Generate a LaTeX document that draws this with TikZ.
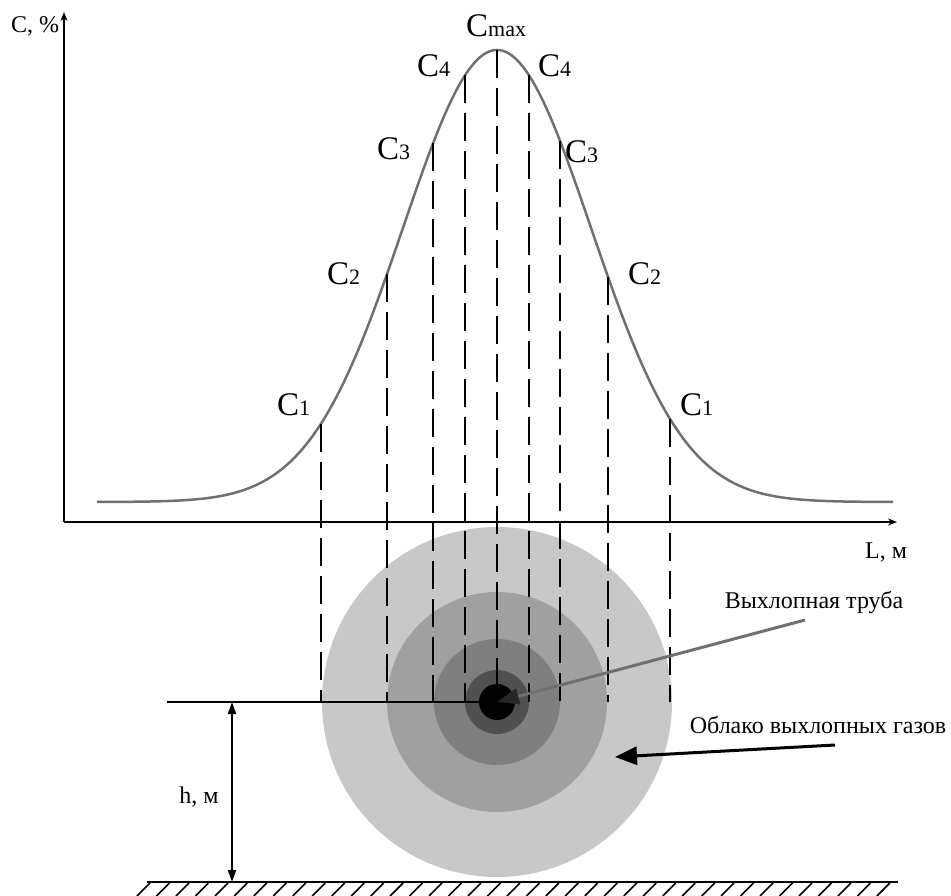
\documentclass[tikz,border=0pt]{standalone}
\usepackage{fontspec}
\setmainfont{Liberation Serif}
\usetikzlibrary{arrows.meta}
\definecolor{cloudA}{HTML}{C8C8C8}
\definecolor{cloudB}{HTML}{A0A0A0}
\definecolor{cloudC}{HTML}{7F7F7F}
\definecolor{cloudD}{HTML}{505050}
\definecolor{curvegray}{HTML}{707070}
\newcommand\clab[1]{{\fontsize{33}{33}\selectfont C}{\fontsize{22}{22}\selectfont #1}}
\newcommand\gaussy[1]{502-452*exp(-0.5*((#1-497)/94)^2)}
\tikzset{
  lab/.style={inner sep=0pt, anchor=base west},
  axis/.style={line width=2pt, -{Stealth[length=9pt,width=7pt]}},
  dline/.style={line width=2pt, dash pattern=on 28pt off 10pt},
  txt/.style={inner sep=0pt, anchor=base, font=\fontsize{24}{24}\selectfont},
}
\begin{document}
\begin{tikzpicture}[x=1pt,y=-1pt]
\useasboundingbox (0,0) rectangle (951,896);
% cloud
\coordinate (ctr) at (497,702);
\fill[cloudA] (ctr) circle (175);
\fill[cloudB] (ctr) circle (110);
\fill[cloudC] (ctr) circle (63);
\fill[cloudD] (ctr) circle (32);
% axes
\coordinate (O) at (64,522);
\coordinate (Ytop) at (64,12);
\coordinate (Xend) at (897,522);
\draw[axis] (O) -- (Ytop);
\draw[axis] (O) -- (Xend);
% curve
\draw[curvegray, line width=2.5pt] plot[domain=97:893, samples=240, smooth] (\x,{\gaussy{\x}});
% dashed projections
\foreach \n/\xx in {l1/321, l2/387, l3/433, l4/465, m/497, r4/529, r3/560, r2/608, r1/670}{
  \coordinate (p\n) at (\xx,{\gaussy{\xx}});
  \coordinate (q\n) at (\xx,702);
  \draw[dline] (p\n) -- (q\n);
}
% height line
\coordinate (hl) at (167,702);
\draw[line width=2pt] (hl) -- (ctr);
\fill[black] (ctr) circle (18);
% ground
\coordinate (g1) at (147,882);
\coordinate (g2) at (898,882);
\draw[line width=2pt] (g1) -- (g2);
\foreach \i in {0,...,38}{
  \draw[line width=1.6pt] ({150+\i*19.47-13},896) -- ({150+\i*19.47},883);
}
% dimension h
\coordinate (dh1) at (232,702);
\coordinate (dh2) at (232,882);
\draw[line width=2pt, {Triangle[length=12pt,width=8pt]}-{Triangle[length=12pt,width=8pt]}] (dh1) -- (dh2);
\node[txt] (hlab) at (199,803) {h, м};
% axis labels
\node[lab, font=\fontsize{24}{24}\selectfont] (ylab) at (11,33) {C, \%};
\node[lab, font=\fontsize{24}{24}\selectfont] (xlab) at (865,558) {L, м};
% C labels
\node[lab] (cmax) at (466,37) {\clab{max}};
\node[lab] (c4l) at (417,77) {\clab{4}};
\node[lab] (c4r) at (538,77) {\clab{4}};
\node[lab] (c3l) at (377,160) {\clab{3}};
\node[lab] (c3r) at (565,163) {\clab{3}};
\node[lab] (c2l) at (327,284) {\clab{2}};
\node[lab] (c2r) at (628,285) {\clab{2}};
\node[lab] (c1l) at (277,415) {\clab{1}};
\node[lab] (c1r) at (680,415) {\clab{1}};
% annotations
\node[txt] (tube) at (814,608) {Выхлопная труба};
\coordinate (tubestart) at (805,620);
\draw[curvegray, line width=3pt, -{Triangle[length=22pt,width=16pt,color=black!85]}] (tubestart) -- (ctr);
\node[txt] (cloudlab) at (818,733) {Облако выхлопных газов};
\coordinate (cloudstart) at (835,745);
\coordinate (cloudtip) at (615,757);
\draw[line width=3pt, -{Triangle[length=22pt,width=18pt]}] (cloudstart) -- (cloudtip);
\end{tikzpicture}
\end{document}
